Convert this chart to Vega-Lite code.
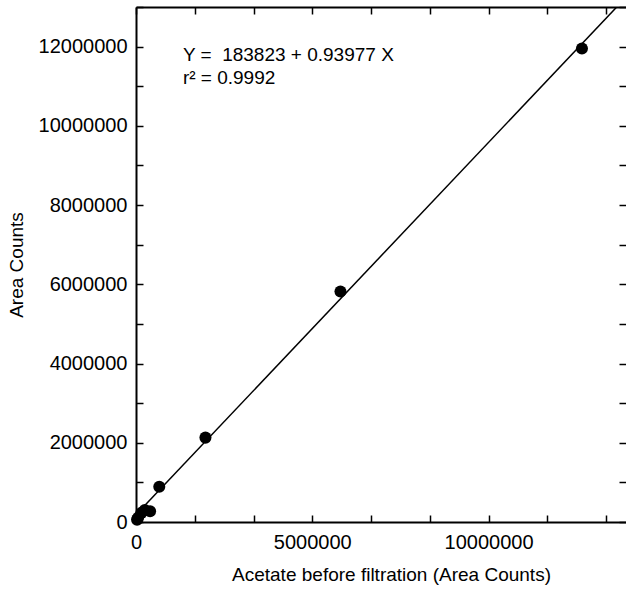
{
  "$schema": "https://vega.github.io/schema/vega-lite/v6.json",
  "width": 490,
  "height": 515,
  "autosize": {"type": "none"},
  "padding": {"left": 136, "top": 7, "right": 0, "bottom": 69},
  "background": "white",
  "config": {
    "view": {"stroke": null},
    "font": "Liberation Sans",
    "axis": {
      "grid": false,
      "domainColor": "black",
      "domainWidth": 2,
      "tickColor": "black",
      "tickWidth": 1.5,
      "tickSize": -7,
      "labelFlush": false,
      "labelColor": "black",
      "labelFont": "Liberation Sans",
      "labelFontSize": 20,
      "titleColor": "black",
      "titleFont": "Liberation Sans",
      "titleFontSize": 19,
      "titleFontWeight": "normal"
    }
  },
  "datasets": {
    "points": [
      {"x": 30000, "y": 60000},
      {"x": 60000, "y": 110000},
      {"x": 150000, "y": 230000},
      {"x": 250000, "y": 300000},
      {"x": 400000, "y": 270000},
      {"x": 660000, "y": 890000},
      {"x": 1970000, "y": 2130000},
      {"x": 5800000, "y": 5820000},
      {"x": 12650000, "y": 11950000}
    ],
    "fit": [
      {"x": 0, "y": 183823},
      {"x": 13900000, "y": 13246626}
    ],
    "notes": [
      {"label": "Y =\u00a0\u00a0183823 + 0.93977 X", "x": 1330000, "y": 11790000},
      {"label": "r² = 0.9992", "x": 1330000, "y": 11210000}
    ]
  },
  "resolve": {"axis": {"x": "independent", "y": "independent"}},
  "layer": [
    {
      "data": {"name": "fit"},
      "mark": {"type": "line", "color": "black", "strokeWidth": 1.5, "clip": true},
      "encoding": {
        "x": {"field": "x", "type": "quantitative",
          "scale": {"domain": [0, 13900000], "nice": false, "zero": false},
          "axis": {"orient": "top", "labels": false, "title": null,
            "values": [0, 1666666.67, 3333333.33, 5000000, 6666666.67, 8333333.33, 10000000, 11666666.67, 13333333.33]}},
        "y": {"field": "y", "type": "quantitative",
          "scale": {"domain": [0, 13000000], "nice": false, "zero": false},
          "axis": {"orient": "right", "labels": false, "title": null, "domain": false,
            "values": [0, 1000000, 2000000, 3000000, 4000000, 5000000, 6000000, 7000000, 8000000, 9000000, 10000000, 11000000, 12000000, 13000000]}}
      }
    },
    {
      "data": {"name": "points"},
      "mark": {"type": "circle", "color": "black", "opacity": 1, "size": 145},
      "encoding": {
        "x": {"field": "x", "type": "quantitative",
          "axis": {"orient": "bottom", "format": "d", "labelPadding": 17, "titlePadding": 13, "titleX": 255,
            "title": "Acetate before filtration (Area Counts)",
            "values": [0, 1666666.67, 3333333.33, 5000000, 6666666.67, 8333333.33, 10000000, 11666666.67, 13333333.33],
            "labelExpr": "(datum.value == 0 || datum.value == 5000000 || datum.value == 10000000) ? datum.label : ''"}},
        "y": {"field": "y", "type": "quantitative",
          "axis": {"orient": "left", "format": "d", "labelPadding": 16, "titlePadding": 12,
            "title": "Area Counts",
            "values": [0, 1000000, 2000000, 3000000, 4000000, 5000000, 6000000, 7000000, 8000000, 9000000, 10000000, 11000000, 12000000, 13000000],
            "labelExpr": "datum.value % 2000000 == 0 ? datum.label : ''"}}
      }
    },
    {
      "data": {"name": "notes"},
      "mark": {"type": "text", "align": "left", "baseline": "middle", "fontSize": 19, "font": "Liberation Sans", "color": "black"},
      "encoding": {
        "x": {"field": "x", "type": "quantitative", "axis": null},
        "y": {"field": "y", "type": "quantitative", "axis": null},
        "text": {"field": "label", "type": "nominal"}
      }
    }
  ]
}
